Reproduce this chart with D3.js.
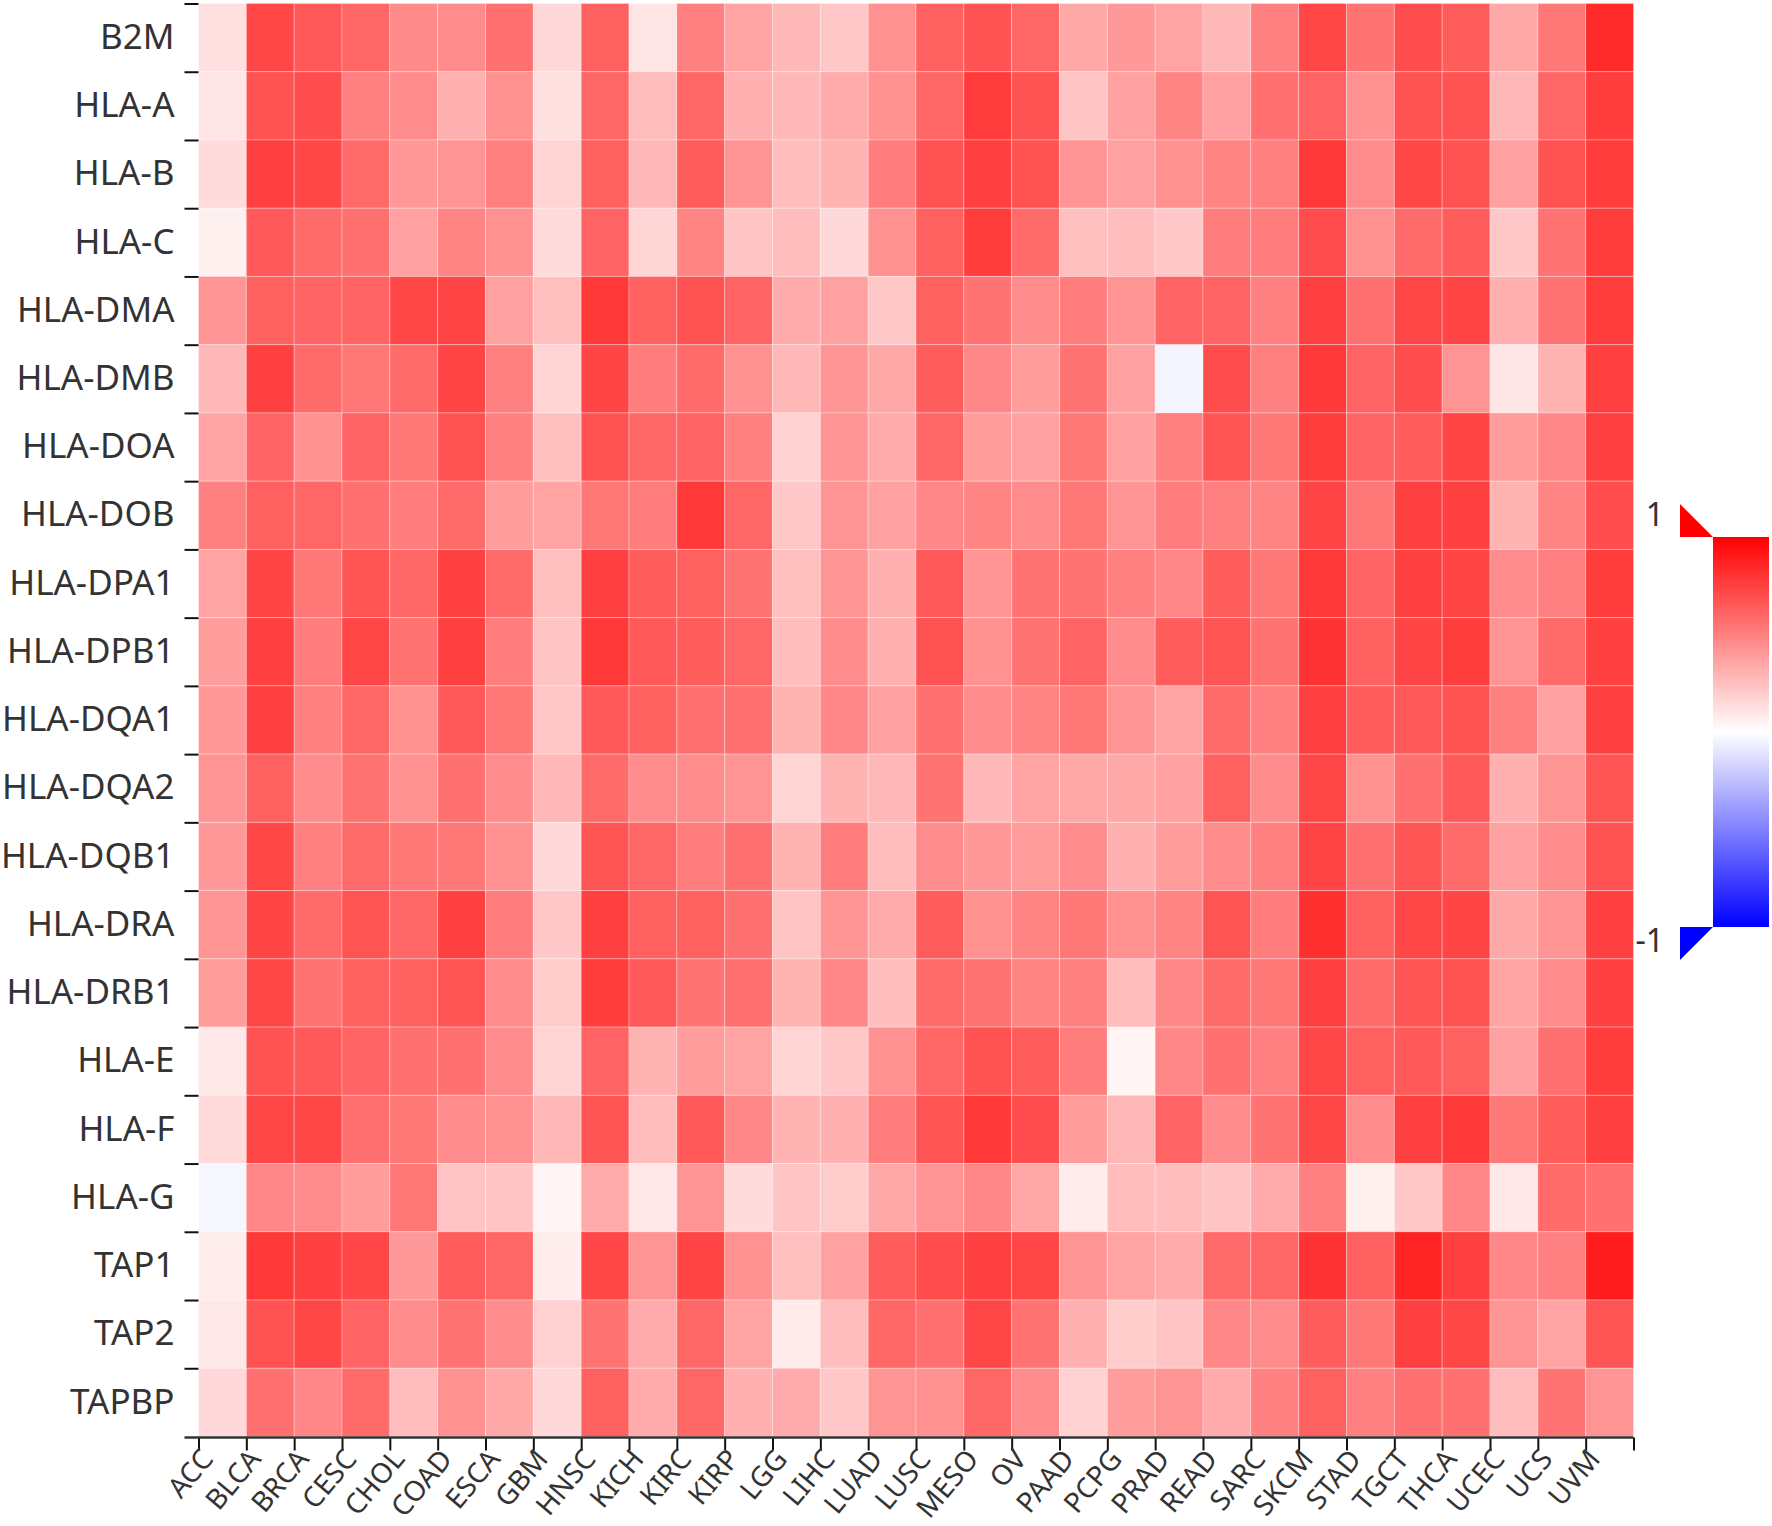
<!DOCTYPE html>
<html>
<head>
    <meta charset="utf-8">
    <script src="https://d3js.org/d3.v7.min.js"></script>
    <style>
        body { margin: 0; background: #fff; }
        text { font-family: "Noto Sans", sans-serif; }
    </style>
</head>
<body>
    <div id="my_dataviz"></div>
    <script>

        // cancer types (columns) and genes (rows)
        var cancers = ["ACC", "BLCA", "BRCA", "CESC", "CHOL", "COAD", "ESCA", "GBM", "HNSC", "KICH",
            "KIRC", "KIRP", "LGG", "LIHC", "LUAD", "LUSC", "MESO", "OV", "PAAD", "PCPG",
            "PRAD", "READ", "SARC", "SKCM", "STAD", "TGCT", "THCA", "UCEC", "UCS", "UVM"];

        var genes = ["B2M", "HLA-A", "HLA-B", "HLA-C", "HLA-DMA", "HLA-DMB", "HLA-DOA", "HLA-DOB",
            "HLA-DPA1", "HLA-DPB1", "HLA-DQA1", "HLA-DQA2", "HLA-DQB1", "HLA-DRA", "HLA-DRB1",
            "HLA-E", "HLA-F", "HLA-G", "TAP1", "TAP2", "TAPBP"];

        // correlation values, one array per gene, in the order of cancers
        var b2m = [0.12, 0.72, 0.65, 0.6, 0.46, 0.45, 0.56, 0.15, 0.62, 0.1, 0.5, 0.36, 0.28, 0.22, 0.43, 0.62, 0.68, 0.6, 0.34, 0.4, 0.36, 0.28, 0.5, 0.72, 0.55, 0.7, 0.64, 0.34, 0.53, 0.83];
        var hlaA = [0.1, 0.68, 0.7, 0.5, 0.45, 0.31, 0.43, 0.12, 0.6, 0.26, 0.6, 0.31, 0.28, 0.33, 0.43, 0.6, 0.77, 0.68, 0.23, 0.37, 0.48, 0.37, 0.56, 0.61, 0.43, 0.68, 0.68, 0.28, 0.6, 0.76];
        var hlaB = [0.14, 0.75, 0.72, 0.58, 0.4, 0.42, 0.5, 0.17, 0.62, 0.28, 0.64, 0.42, 0.26, 0.3, 0.51, 0.68, 0.75, 0.68, 0.42, 0.37, 0.43, 0.48, 0.5, 0.78, 0.45, 0.72, 0.68, 0.37, 0.68, 0.76];
        var hlaC = [0.06, 0.65, 0.58, 0.56, 0.37, 0.48, 0.43, 0.14, 0.61, 0.16, 0.48, 0.23, 0.26, 0.15, 0.43, 0.62, 0.76, 0.58, 0.25, 0.26, 0.22, 0.51, 0.51, 0.7, 0.43, 0.58, 0.64, 0.22, 0.55, 0.76];
        var hlaDMA = [0.42, 0.62, 0.61, 0.61, 0.72, 0.73, 0.37, 0.25, 0.78, 0.62, 0.68, 0.61, 0.33, 0.37, 0.22, 0.62, 0.55, 0.45, 0.51, 0.42, 0.61, 0.61, 0.5, 0.75, 0.56, 0.72, 0.73, 0.31, 0.55, 0.76];
        var hlaDMB = [0.28, 0.75, 0.58, 0.53, 0.58, 0.73, 0.5, 0.17, 0.73, 0.51, 0.58, 0.43, 0.28, 0.42, 0.34, 0.64, 0.47, 0.39, 0.55, 0.37, -0.04, 0.7, 0.5, 0.78, 0.61, 0.7, 0.42, 0.1, 0.3, 0.75];
        var hlaDOA = [0.36, 0.61, 0.43, 0.61, 0.53, 0.68, 0.5, 0.25, 0.68, 0.6, 0.61, 0.5, 0.18, 0.42, 0.33, 0.6, 0.39, 0.37, 0.53, 0.37, 0.5, 0.67, 0.53, 0.76, 0.61, 0.64, 0.73, 0.39, 0.47, 0.75];
        var hlaDOB = [0.5, 0.62, 0.6, 0.56, 0.51, 0.58, 0.39, 0.36, 0.53, 0.51, 0.78, 0.6, 0.22, 0.42, 0.37, 0.47, 0.48, 0.45, 0.53, 0.42, 0.51, 0.5, 0.48, 0.73, 0.53, 0.75, 0.75, 0.3, 0.48, 0.7];
        var hlaDPA1 = [0.36, 0.73, 0.53, 0.67, 0.6, 0.75, 0.58, 0.25, 0.75, 0.64, 0.62, 0.55, 0.25, 0.42, 0.31, 0.65, 0.42, 0.55, 0.55, 0.5, 0.47, 0.64, 0.53, 0.78, 0.61, 0.75, 0.73, 0.45, 0.5, 0.76];
        var hlaDPB1 = [0.39, 0.75, 0.51, 0.72, 0.55, 0.75, 0.51, 0.23, 0.78, 0.65, 0.64, 0.6, 0.26, 0.45, 0.31, 0.68, 0.43, 0.55, 0.61, 0.45, 0.64, 0.67, 0.55, 0.8, 0.62, 0.73, 0.76, 0.42, 0.58, 0.75];
        var hlaDQA1 = [0.4, 0.75, 0.5, 0.6, 0.43, 0.65, 0.53, 0.22, 0.65, 0.62, 0.56, 0.56, 0.3, 0.47, 0.37, 0.56, 0.45, 0.48, 0.53, 0.42, 0.36, 0.58, 0.5, 0.75, 0.64, 0.65, 0.68, 0.5, 0.37, 0.75];
        var hlaDQA2 = [0.42, 0.62, 0.45, 0.55, 0.43, 0.56, 0.45, 0.28, 0.58, 0.45, 0.45, 0.42, 0.17, 0.3, 0.28, 0.55, 0.28, 0.36, 0.34, 0.34, 0.37, 0.62, 0.45, 0.72, 0.43, 0.56, 0.65, 0.31, 0.42, 0.67];
        var hlaDQB1 = [0.4, 0.72, 0.5, 0.58, 0.53, 0.53, 0.43, 0.15, 0.67, 0.6, 0.51, 0.56, 0.3, 0.51, 0.26, 0.45, 0.4, 0.39, 0.45, 0.31, 0.39, 0.45, 0.5, 0.73, 0.56, 0.67, 0.58, 0.37, 0.45, 0.68];
        var hlaDRA = [0.42, 0.73, 0.58, 0.67, 0.6, 0.75, 0.51, 0.22, 0.75, 0.62, 0.62, 0.56, 0.23, 0.42, 0.33, 0.64, 0.43, 0.48, 0.53, 0.43, 0.48, 0.67, 0.51, 0.81, 0.62, 0.72, 0.73, 0.34, 0.42, 0.75];
        var hlaDRB1 = [0.39, 0.72, 0.55, 0.62, 0.62, 0.67, 0.45, 0.2, 0.76, 0.65, 0.55, 0.56, 0.3, 0.47, 0.26, 0.58, 0.55, 0.48, 0.5, 0.26, 0.47, 0.58, 0.53, 0.75, 0.58, 0.67, 0.68, 0.36, 0.45, 0.75];
        var hlaE = [0.09, 0.68, 0.65, 0.61, 0.56, 0.56, 0.45, 0.17, 0.61, 0.3, 0.39, 0.36, 0.17, 0.22, 0.43, 0.6, 0.68, 0.64, 0.51, 0.04, 0.47, 0.56, 0.5, 0.72, 0.62, 0.65, 0.62, 0.37, 0.56, 0.76];
        var hlaF = [0.14, 0.72, 0.72, 0.56, 0.53, 0.45, 0.43, 0.28, 0.67, 0.26, 0.65, 0.47, 0.3, 0.31, 0.51, 0.67, 0.78, 0.7, 0.39, 0.28, 0.61, 0.45, 0.55, 0.72, 0.45, 0.75, 0.78, 0.53, 0.64, 0.75];
        var hlaG = [-0.03, 0.47, 0.45, 0.39, 0.53, 0.23, 0.23, 0.04, 0.33, 0.09, 0.42, 0.14, 0.23, 0.2, 0.34, 0.42, 0.47, 0.34, 0.07, 0.26, 0.26, 0.23, 0.33, 0.5, 0.06, 0.22, 0.47, 0.09, 0.58, 0.56];
        var tap1 = [0.07, 0.78, 0.75, 0.72, 0.4, 0.64, 0.6, 0.07, 0.72, 0.42, 0.73, 0.43, 0.25, 0.37, 0.64, 0.7, 0.75, 0.72, 0.42, 0.36, 0.33, 0.58, 0.6, 0.8, 0.62, 0.86, 0.75, 0.47, 0.5, 0.89];
        var tap2 = [0.09, 0.68, 0.72, 0.61, 0.45, 0.55, 0.45, 0.18, 0.55, 0.33, 0.6, 0.36, 0.08, 0.26, 0.6, 0.56, 0.72, 0.55, 0.31, 0.2, 0.23, 0.47, 0.45, 0.64, 0.53, 0.75, 0.72, 0.42, 0.36, 0.67];
        var tapbp = [0.15, 0.56, 0.47, 0.58, 0.26, 0.43, 0.34, 0.15, 0.62, 0.33, 0.6, 0.31, 0.33, 0.22, 0.42, 0.43, 0.6, 0.45, 0.18, 0.39, 0.42, 0.33, 0.5, 0.62, 0.5, 0.56, 0.56, 0.26, 0.55, 0.42];

        var rows = [b2m, hlaA, hlaB, hlaC, hlaDMA, hlaDMB, hlaDOA, hlaDOB, hlaDPA1, hlaDPB1,
            hlaDQA1, hlaDQA2, hlaDQB1, hlaDRA, hlaDRB1, hlaE, hlaF, hlaG, tap1, tap2, tapbp];

        // colour bar range
        var cbTicks = [-1, 1];

        // flatten into cells
        var cells = [];
        genes.forEach(function (g, i) {
            cancers.forEach(function (c, j) {
                cells.push({ gene: g, cancer: c, value: rows[i][j] });
            });
        });

        // size of the picture and the heatmap area
        var W = 1772, H = 1526;
        var plotL = 198.5, plotR = 1633.5, plotT = 3.5, plotB = 1436.5;

        var svg = d3.select("#my_dataviz")
            .append("svg")
            .attr("width", W)
            .attr("height", H);

        var x = d3.scaleBand().domain(cancers).range([plotL, plotR]);
        var y = d3.scaleBand().domain(genes).range([plotT, plotB]);

        var color = d3.scaleLinear()
            .domain([-1, 0, 1])
            .range(["#0000ff", "#ffffff", "#ff0000"])
            .clamp(true);

        // the cells
        svg.append("g")
            .selectAll("rect")
            .data(cells)
            .enter()
            .append("rect")
            .attr("x", function (d) { return x(d.cancer); })
            .attr("y", function (d) { return y(d.gene); })
            .attr("width", x.bandwidth())
            .attr("height", y.bandwidth())
            .attr("fill", function (d) { return color(d.value); })
            .attr("stroke", "rgba(255,255,255,0.3)")
            .attr("stroke-width", 1);

        // Y labels at row centres
        var yLab = svg.append("g")
            .attr("transform", "translate(" + plotL + ",0)")
            .call(d3.axisLeft(y).tickSize(0).tickPadding(24));
        yLab.select(".domain").remove();
        yLab.selectAll("text")
            .style("font-size", "35px")
            .attr("fill", "#333");

        // Y ticks on row edges
        var yEdge = d3.scaleLinear().domain([0, genes.length]).range([plotT, plotB]);
        var yTicks = svg.append("g")
            .attr("transform", "translate(" + plotL + ",0)")
            .call(d3.axisLeft(yEdge).tickValues(d3.range(genes.length)).tickSize(14).tickFormat(""));
        yTicks.select(".domain").remove();
        yTicks.selectAll("line").attr("stroke", "#111").attr("stroke-width", 2);

        // X axis: ticks on column edges, labels hanging from them
        var xEdge = d3.scaleLinear().domain([0, cancers.length]).range([plotL, plotR]);
        var xAxis = svg.append("g")
            .attr("transform", "translate(0," + (plotB + 1) + ")")
            .call(d3.axisBottom(xEdge)
                .tickValues(d3.range(cancers.length + 1))
                .tickSize(13)
                .tickFormat(function (i) { return cancers[i] || ""; }));
        xAxis.select(".domain").remove();
        xAxis.selectAll("line").attr("stroke", "#111").attr("stroke-width", 2);
        xAxis.selectAll("text")
            .attr("x", 0)
            .attr("y", 0)
            .attr("dy", "0.35em")
            .attr("text-anchor", "end")
            .attr("transform", "translate(8,16) rotate(-50)")
            .style("font-size", "28px")
            .attr("fill", "#333");

        xAxis.append("line")
            .attr("x1", plotL - 14)
            .attr("x2", plotR)
            .attr("y1", 0)
            .attr("y2", 0)
            .attr("stroke", "#333")
            .attr("stroke-width", 2.5);

        // colour bar
        var cbX = 1713, cbW = 56, cbTop = 537, cbBottom = 927, tri = 33;

        var grad = svg.append("defs")
            .append("linearGradient")
            .attr("id", "cbGrad")
            .attr("x1", 0).attr("x2", 0)
            .attr("y1", 0).attr("y2", 1);
        [1, 0.5, 0, -0.5, -1].forEach(function (v, i) {
            grad.append("stop")
                .attr("offset", (i * 25) + "%")
                .attr("stop-color", color(v));
        });

        svg.append("rect")
            .attr("x", cbX)
            .attr("y", cbTop)
            .attr("width", cbW)
            .attr("height", cbBottom - cbTop)
            .attr("fill", "url(#cbGrad)");

        svg.append("path")
            .attr("d", "M" + (cbX - tri) + "," + (cbTop - tri) + "L" + (cbX - tri) + "," + cbTop + "L" + cbX + "," + cbTop + "Z")
            .attr("fill", color(1));
        svg.append("path")
            .attr("d", "M" + (cbX - tri) + "," + cbBottom + "L" + cbX + "," + cbBottom + "L" + (cbX - tri) + "," + (cbBottom + tri) + "Z")
            .attr("fill", color(-1));

        var cb = d3.scaleLinear().domain([-1, 1]).range([cbBottom + 14, cbTop - 22]);
        var cbAxis = svg.append("g")
            .attr("transform", "translate(" + (cbX - 49) + ",0)")
            .call(d3.axisLeft(cb).tickValues(cbTicks).tickSize(0).tickPadding(0)
                .tickFormat(function (d) { return String(d); }));
        cbAxis.select(".domain").remove();
        cbAxis.selectAll("text")
            .style("font-size", "32px")
            .attr("fill", "#333");

    </script>
</body>
</html>
